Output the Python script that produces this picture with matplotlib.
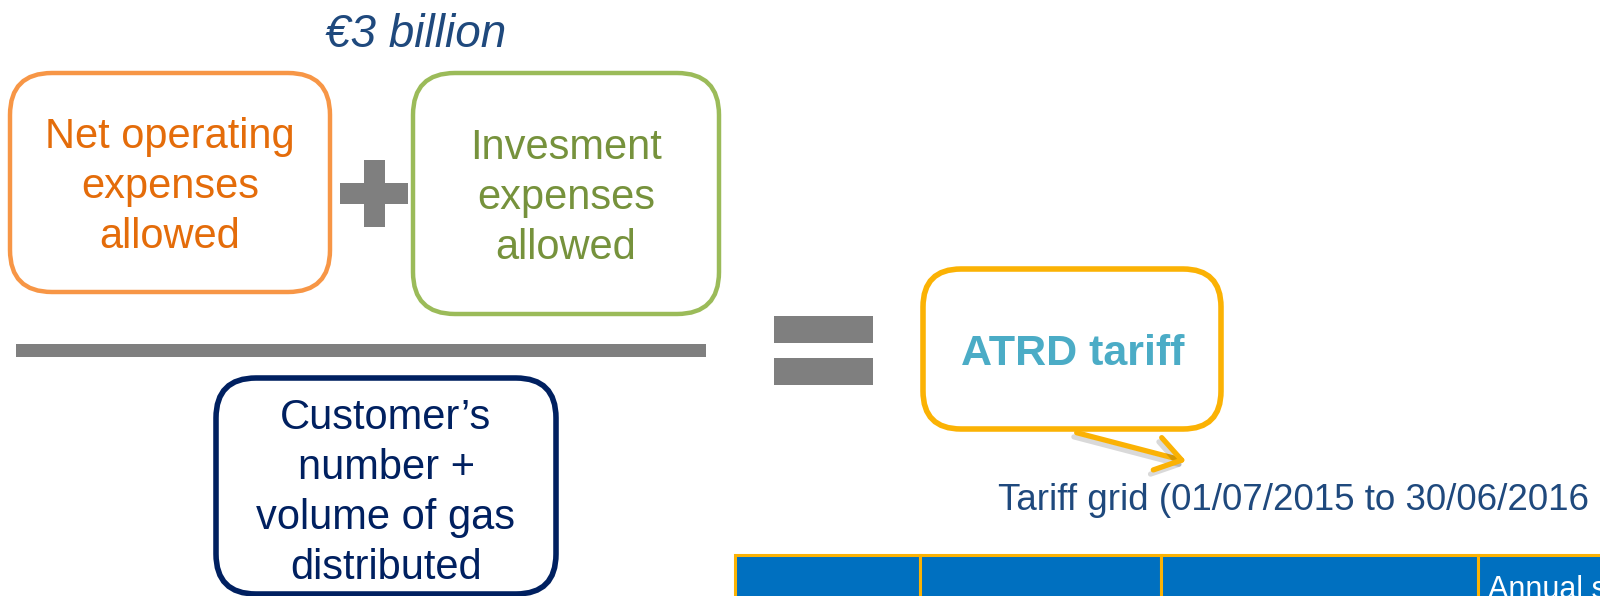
import matplotlib.pyplot as plt
from matplotlib.patches import FancyBboxPatch, Rectangle, FancyArrowPatch
import matplotlib.patheffects as pe

plt.rcParams['font.family'] = ['Liberation Sans', 'DejaVu Sans']

# texts of the diagram
total_label = "€3 billion"
opex_label = "Net operating\nexpenses\nallowed"
capex_label = "Invesment\nexpenses\nallowed"
divisor_label = "Customer’s\nnumber +\nvolume of gas\ndistributed"
result_label = "ATRD tariff"
grid_label = "Tariff grid (01/07/2015 to 30/06/2016"
table_headers = ["", "", "", "Annual subscription"]

ORANGE = '#F79646'
ORANGE_TXT = '#E46C0A'
GREEN = '#9BBB59'
GREEN_TXT = '#76923C'
NAVY = '#002060'
GOLD = '#FBB204'
GREY = '#7F7F7F'
BLUE_TXT = '#1F497D'
TEAL = '#4BACC6'
TABLE_BLUE = '#0070C0'

fig = plt.figure(figsize=(16, 5.96), dpi=100)
ax = fig.add_axes([0, 0, 1, 1])
ax.set_xlim(0, 1600)
ax.set_ylim(596, 0)
ax.axis('off')

shadow = [pe.SimplePatchShadow(offset=(1.5, -1.5), shadow_rgbFace='k', alpha=0.15), pe.Normal()]


def rounded_box(x0, y0, x1, y1, color, lw, r=42, fx=None):
    box = FancyBboxPatch((x0, y0), x1 - x0, y1 - y0,
                         boxstyle="round,pad=0,rounding_size=%d" % r,
                         facecolor='white', edgecolor=color, linewidth=lw, zorder=2)
    if fx:
        box.set_path_effects(fx)
    ax.add_patch(box)


# numerator
ax.text(416, 35, total_label, color=BLUE_TXT, fontsize=33, style='italic',
        ha='center', va='center')

rounded_box(10, 73, 330, 292, ORANGE, 3.2)
ax.text(170, 187, opex_label, color=ORANGE_TXT, fontsize=30, ha='center',
        va='center', linespacing=1.33, zorder=3)

rounded_box(413, 73, 719, 314, GREEN, 3.2)
ax.text(566, 198, capex_label, color=GREEN_TXT, fontsize=30, ha='center',
        va='center', linespacing=1.33, zorder=3)

# plus sign
for (px, py, w, h) in [(340, 183, 68, 21), (364, 160, 21, 67)]:
    r = Rectangle((px, py), w, h, facecolor=GREY, edgecolor='none', zorder=3)
    ax.add_patch(r)

# fraction bar
ax.add_patch(Rectangle((16, 344), 690, 13, facecolor=GREY, edgecolor='none'))

# denominator
rounded_box(216, 378, 556, 594, NAVY, 4, r=40, fx=shadow)
ax.text(386, 493, divisor_label, color=NAVY, fontsize=30, ha='center',
        va='center', linespacing=1.33, zorder=3)

# equals sign
for ey in [316, 358]:
    ax.add_patch(Rectangle((774, ey), 99, 27, facecolor=GREY, edgecolor='none'))

# result
rounded_box(923, 269, 1221, 429, GOLD, 4, r=38)
ax.text(1073, 354, result_label, color=TEAL, fontsize=31, fontweight='bold',
        ha='center', va='center', zorder=3)

arrow = FancyArrowPatch((1074, 432), (1189, 462),
                        arrowstyle='->,head_length=9,head_width=6',
                        color=GOLD, linewidth=3.8, mutation_scale=2, zorder=3)
arrow.set_path_effects([pe.SimpleLineShadow(offset=(-2, -3), alpha=0.15), pe.Normal()])
ax.add_patch(arrow)

ax.text(998, 500, grid_label, color=BLUE_TXT, fontsize=26.5, ha='left', va='center')

# tariff grid header row (cut by the bottom of the slide)
col_edges = [735, 920, 1161, 1478, 1700]
for i, head in enumerate(table_headers):
    x0, x1 = col_edges[i], col_edges[i + 1]
    ax.add_patch(Rectangle((x0, 555), x1 - x0, 80, facecolor=TABLE_BLUE,
                           edgecolor=GOLD, linewidth=2.2, zorder=2))
    if head:
        ax.text(x0 + 10, 575, head, color='white', fontsize=22, ha='left',
                va='top', zorder=3, clip_on=True)

fig.savefig('out.png', dpi=100)
